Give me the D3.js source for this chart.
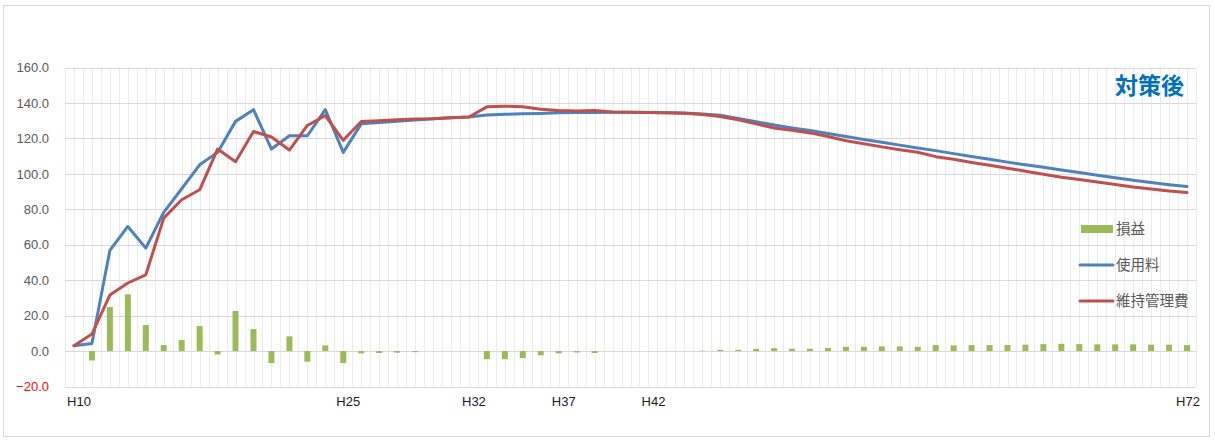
<!DOCTYPE html>
<html lang="ja">
<head>
<meta charset="utf-8">
<script src="https://cdn.jsdelivr.net/npm/d3@7"></script>
<style>
  html, body { margin: 0; padding: 0; background: #fff; }
  svg { display: block; }
  text { font-family: "Liberation Sans", Arial, sans-serif; }
  .jp { font-family: "Noto Sans CJK JP", sans-serif; }
</style>
</head>
<body>
<svg id="chart" width="1215" height="441"></svg>
<script>
// Fiscal years (Heisei) on the category axis
const categories = ["H10","H11","H12","H13","H14","H15","H16","H17","H18","H19",
  "H20","H21","H22","H23","H24","H25","H26","H27","H28","H29",
  "H30","H31","H32","H33","H34","H35","H36","H37","H38","H39",
  "H40","H41","H42","H43","H44","H45","H46","H47","H48","H49",
  "H50","H51","H52","H53","H54","H55","H56","H57","H58","H59",
  "H60","H61","H62","H63","H64","H65","H66","H67","H68","H69",
  "H70","H71","H72"];

// Labelled years on the x axis
const tickLabels = ["H10","H25","H32","H37","H42","H72"];

// y axis ticks
const yTicks = [-20, 0, 20, 40, 60, 80, 100, 120, 140, 160];

// 使用料 (fee revenue)
const usage = [3.0, 4.3, 56.8, 70.3, 58.1, 78.3, 91.6, 105.1, 112.1, 129.6,
  136.2, 114.0, 121.5, 121.5, 136.2, 112.1, 128.2, 128.9, 129.6, 130.4,
  131.1, 131.6, 132.1, 133.2, 133.6, 133.9, 134.1, 134.5, 134.6, 134.6,
  134.7, 134.7, 134.6, 134.5, 134.3, 133.7, 133.1, 131.2, 129.4, 127.5,
  125.9, 124.4, 122.8, 121.1, 119.4, 117.8, 116.2, 114.6, 113.1, 111.4,
  109.8, 108.2, 106.6, 105.1, 103.7, 102.2, 100.7, 99.2, 97.8, 96.4,
  95.1, 93.9, 92.8];

// 維持管理費 (maintenance cost)
const maintenance = [3.0, 9.6, 31.6, 38.4, 43.0, 75.0, 85.4, 91.0, 114.0, 106.8,
  123.9, 120.8, 113.4, 127.3, 132.9, 118.9, 129.5, 130.0, 130.5, 131.0,
  131.1, 131.6, 132.1, 137.8, 138.2, 137.9, 136.5, 135.8, 135.4, 135.7,
  134.9, 134.7, 134.6, 134.5, 134.2, 133.5, 132.4, 130.5, 128.2, 125.9,
  124.6, 123.1, 121.1, 118.7, 117.0, 115.2, 113.6, 112.2, 109.7, 108.2,
  106.4, 104.8, 103.2, 101.5, 99.8, 98.1, 96.8, 95.4, 94.0, 92.6,
  91.5, 90.3, 89.4];

// 損益 (profit / loss)
const profit = [0, -5.3, 24.8, 32.0, 14.7, 3.4, 6.2, 14.1, -1.9, 22.6,
  12.4, -6.8, 8.3, -6.0, 3.2, -6.8, -1.3, -1.1, -0.9, -0.6,
  0, 0, 0, -4.6, -4.6, -4.0, -2.4, -1.3, -0.8, -1.1,
  0, 0, 0, 0, 0, 0.2, 0.7, 0.7, 1.2, 1.6,
  1.3, 1.3, 1.7, 2.4, 2.4, 2.6, 2.6, 2.4, 3.4, 3.2,
  3.4, 3.4, 3.4, 3.6, 3.9, 4.1, 3.9, 3.8, 3.8, 3.8,
  3.6, 3.6, 3.4];

const seriesNames = { profit: "損益", usage: "使用料", maintenance: "維持管理費" };
const colors = { profit: "#9bbb59", usage: "#4f81bd", maintenance: "#c0504d" };
const title = "対策後";

const svg = d3.select("#chart");

// outer frame
svg.append("rect")
  .attr("x", 3.5).attr("y", 5.5)
  .attr("width", 1206).attr("height", 431)
  .attr("fill", "none").attr("stroke", "#d9d9d9");

const plot = { left: 65, right: 1196, top: 67.5, bottom: 386.5 };

const x = d3.scaleBand().domain(categories).range([plot.left, plot.right]).padding(0);
const y = d3.scaleLinear().domain([-20, 160]).range([plot.bottom, plot.top]);
const cx = d => x(d) + x.bandwidth() / 2;

// vertical grid: at every band edge and band centre
const vLines = [];
categories.forEach(c => { vLines.push(x(c)); vLines.push(cx(c)); });
vLines.push(plot.right);
svg.append("g").selectAll("line").data(vLines).join("line")
  .attr("x1", d => Math.round(d) + 0.5).attr("x2", d => Math.round(d) + 0.5)
  .attr("y1", plot.top).attr("y2", plot.bottom)
  .attr("stroke", "#ececec").attr("stroke-width", 1);

// horizontal grid
svg.append("g").selectAll("line").data(yTicks).join("line")
  .attr("x1", plot.left).attr("x2", plot.right)
  .attr("y1", d => Math.round(y(d)) + 0.5).attr("y2", d => Math.round(y(d)) + 0.5)
  .attr("stroke", "#d9d9d9").attr("stroke-width", 1);

// y axis labels
const yAxis = svg.append("g")
  .attr("transform", `translate(${plot.left - 16},0)`)
  .call(d3.axisLeft(y).tickValues(yTicks).tickFormat(d3.format(".1f")).tickSize(0).tickPadding(0));
yAxis.select(".domain").remove();
yAxis.selectAll("text")
  .attr("font-size", 13)
  .attr("font-family", "Liberation Sans, Arial, sans-serif")
  .attr("fill", d => d < 0 ? "#ff0000" : "#595959");

// x axis labels
const xAxis = svg.append("g")
  .attr("transform", `translate(0,${plot.bottom})`)
  .call(d3.axisBottom(x).tickValues(tickLabels).tickSize(0).tickPadding(10));
xAxis.select(".domain").remove();
xAxis.selectAll("text")
  .attr("font-size", 13)
  .attr("font-family", "Liberation Sans, Arial, sans-serif")
  .attr("fill", "#1a1a1a")
  .attr("dx", d => d === "H72" ? 1 : 5);

// profit bars
const barW = 6;
svg.append("g").selectAll("rect").data(categories).join("rect")
  .attr("x", (c) => cx(c) - barW / 2)
  .attr("width", barW)
  .attr("y", (c, i) => y(Math.max(0, profit[i])))
  .attr("height", (c, i) => Math.abs(y(profit[i]) - y(0)))
  .attr("fill", colors.profit);

// lines
const line = d3.line().x((v, i) => cx(categories[i])).y(v => y(v));
svg.append("path").datum(usage)
  .attr("d", line).attr("fill", "none")
  .attr("stroke", colors.usage).attr("stroke-width", 3)
  .attr("stroke-linejoin", "round").attr("stroke-linecap", "round");
svg.append("path").datum(maintenance)
  .attr("d", line).attr("fill", "none")
  .attr("stroke", colors.maintenance).attr("stroke-width", 3)
  .attr("stroke-linejoin", "round").attr("stroke-linecap", "round");

// title
svg.append("text")
  .attr("class", "jp")
  .attr("x", 1184).attr("y", 94)
  .attr("text-anchor", "end")
  .attr("font-size", 23).attr("font-weight", "bold")
  .attr("fill", "#0070c0")
  .text(title);

// legend
const legend = svg.append("g").attr("transform", "translate(1080,229)");
const items = ["profit", "usage", "maintenance"];
items.forEach((k, i) => {
  const g = legend.append("g").attr("transform", `translate(0,${i * 36})`);
  if (k === "profit") {
    g.append("rect").attr("x", 1).attr("y", -4).attr("width", 32).attr("height", 8)
      .attr("fill", colors[k]);
  } else {
    g.append("line").attr("x1", 0).attr("x2", 33).attr("y1", 0).attr("y2", 0)
      .attr("stroke", colors[k]).attr("stroke-width", 3).attr("stroke-linecap", "round");
  }
  g.append("text").attr("class", "jp")
    .attr("x", 36).attr("y", 0).attr("dy", "0.35em")
    .attr("font-size", 14.5).attr("fill", "#595959")
    .text(seriesNames[k]);
});
</script>
</body>
</html>
